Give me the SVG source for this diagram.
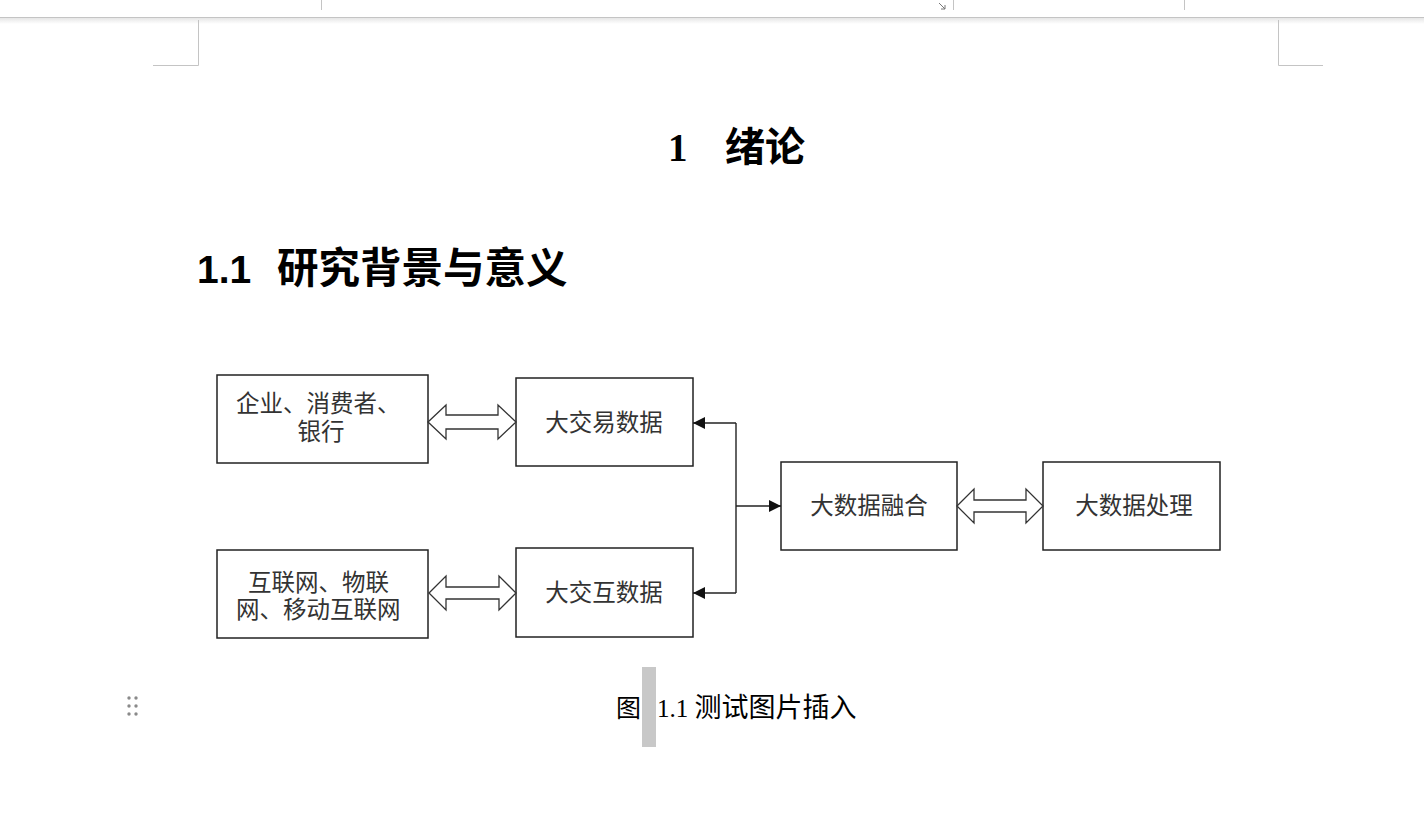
<svg xmlns="http://www.w3.org/2000/svg" width="1424" height="829" viewBox="0 0 1424 829">
<defs>
<style>
.box{fill:#fff;stroke:#222;stroke-width:1.5}
.harrow{fill:#fff;stroke:#333;stroke-width:1.3;stroke-linejoin:miter}
.conn{fill:none;stroke:#222;stroke-width:1.4}
.lbl{font-family:"Noto Sans CJK SC",sans-serif;font-size:23.5px;fill:#333}
.chrome{stroke:#c4c4c4;stroke-width:1;fill:none}
</style>
<marker id="ah" viewBox="0 0 12 12" refX="12" refY="6" markerWidth="12" markerHeight="12" markerUnits="userSpaceOnUse" orient="auto">
<path d="M0,0 L12,6 L0,12 Z" fill="#111"/>
</marker>
<linearGradient id="sh" x1="0" y1="0" x2="0" y2="1">
<stop offset="0" stop-color="#e6e6e6"/>
<stop offset="1" stop-color="#ffffff"/>
</linearGradient>
</defs>
<rect width="1424" height="829" fill="#fff"/>
<!-- page chrome -->
<g id="chrome">
<rect x="0" y="18" width="1424" height="6" fill="url(#sh)"/>
<line class="chrome" x1="0" y1="17.5" x2="1424" y2="17.5" stroke="#c8c8c8"/>
<line class="chrome" x1="321.5" y1="0" x2="321.5" y2="10" stroke="#d0d0d0"/>
<line class="chrome" x1="953.5" y1="0" x2="953.5" y2="10" stroke="#d0d0d0"/>
<line class="chrome" x1="1184.5" y1="0" x2="1184.5" y2="10" stroke="#d0d0d0"/>
<path d="M939,3 L945,9 M945,5 L945,9 L941,9" stroke="#777" stroke-width="1" fill="none"/>
<path class="chrome" d="M198.5,20 V65.5 H153"/>
<path class="chrome" d="M1278.5,20 V65.5 H1323"/>
<g fill="#8a8a8a">
<circle cx="129" cy="698" r="1.7"/><circle cx="136" cy="698" r="1.7"/>
<circle cx="129" cy="706" r="1.7"/><circle cx="136" cy="706" r="1.7"/>
<circle cx="129" cy="714" r="1.7"/><circle cx="136" cy="714" r="1.7"/>
</g>
<rect x="642" y="667" width="14" height="80" fill="#c8c8c8"/>
</g>
<!-- headings -->
<g id="title">
<text x="668" y="161" font-family="Liberation Serif, serif" font-weight="bold" font-size="39" fill="#000">1</text>
<text x="725" y="161" font-family="Noto Sans CJK SC, sans-serif" font-weight="bold" font-size="40" fill="#000">绪论</text>
</g>
<g id="heading">
<text x="197" y="283" font-family="Liberation Sans, sans-serif" font-weight="bold" font-size="39" fill="#000">1.1</text>
<text x="277" y="283" font-family="Noto Sans CJK SC, sans-serif" font-weight="bold" font-size="41.5" fill="#000">研究背景与意义</text>
</g>
<!-- nodes -->
<g id="n1">
<rect class="box" x="217" y="375" width="211" height="88"/>
<text class="lbl"><tspan x="236" y="412">企业、消费者、</tspan><tspan x="321" y="440" text-anchor="middle">银行</tspan></text>
</g>
<g id="n2">
<rect class="box" x="516" y="378" width="177" height="88"/>
<text class="lbl" x="604" y="431" text-anchor="middle">大交易数据</text>
</g>
<g id="n3">
<rect class="box" x="217" y="550" width="211" height="88"/>
<text class="lbl"><tspan x="248" y="591">互联网、物联</tspan><tspan x="236" y="618">网、移动互联网</tspan></text>
</g>
<g id="n4">
<rect class="box" x="516" y="548" width="177" height="89"/>
<text class="lbl" x="604" y="601" text-anchor="middle">大交互数据</text>
</g>
<g id="n5">
<rect class="box" x="781" y="462" width="176" height="88"/>
<text class="lbl" x="869" y="514" text-anchor="middle">大数据融合</text>
</g>
<g id="n6">
<rect class="box" x="1043" y="462" width="177" height="88"/>
<text class="lbl" x="1134" y="514" text-anchor="middle">大数据处理</text>
</g>
<!-- connectors -->
<g id="connectors">
<polygon class="harrow" points="428,422 446,405 446,415 498,415 498,405 516,422 498,439 498,429 446,429 446,439"/>
<polygon class="harrow" points="429,593 446,576 446,587 499,587 499,576 516,593 499,610 499,599 446,599 446,610"/>
<polygon class="harrow" points="957,506 974,489 974,500 1026,500 1026,489 1043,506 1026,523 1026,512 974,512 974,523"/>
<path class="conn" d="M736,423 V593"/>
<path class="conn" d="M736,423 H693" marker-end="url(#ah)"/>
<path class="conn" d="M736,593 H693" marker-end="url(#ah)"/>
<path class="conn" d="M736,506 H781" marker-end="url(#ah)"/>
</g>
<!-- caption -->
<g id="caption">
<text x="616" y="717" font-family="Liberation Serif, Noto Sans CJK SC, serif" font-size="25" fill="#000">图</text>
<text x="657" y="717" font-family="Liberation Serif, Noto Sans CJK SC, serif" font-size="25" fill="#000">1.1 <tspan font-size="27">测试图片插入</tspan></text>
</g>
</svg>
